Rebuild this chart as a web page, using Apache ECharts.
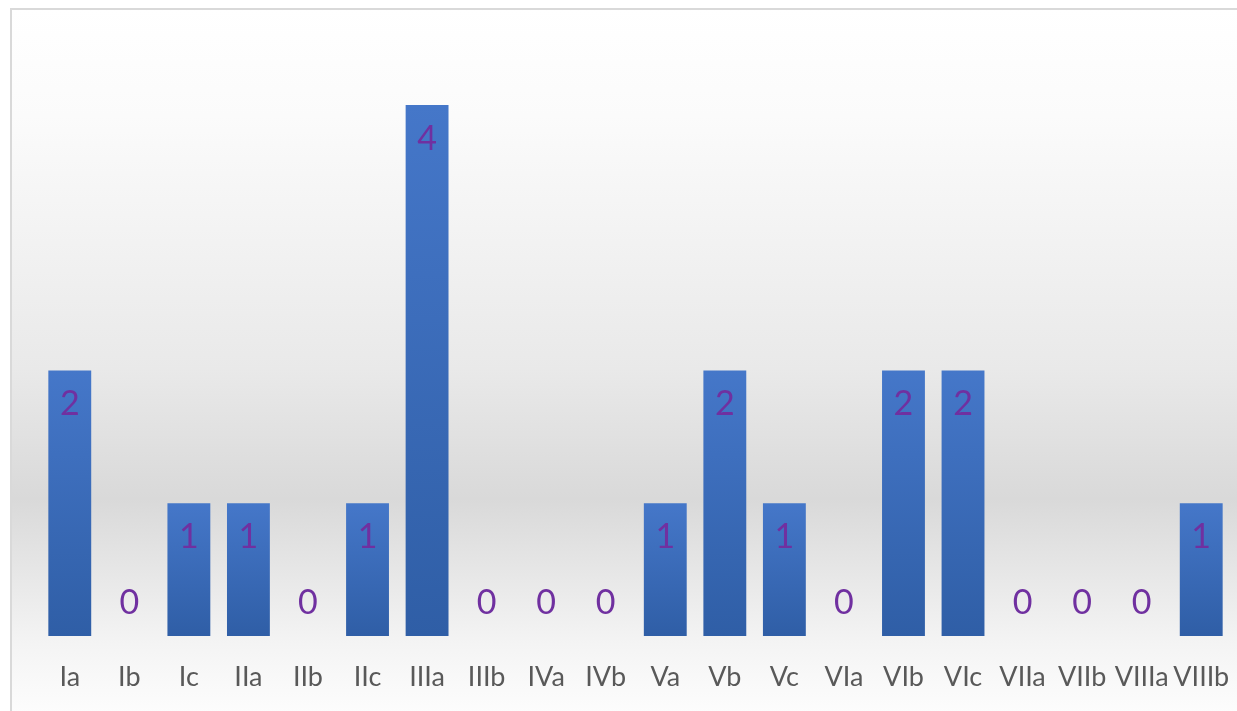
<!DOCTYPE html>
<html><head><meta charset="utf-8">
<script src="https://cdn.jsdelivr.net/npm/echarts@6/dist/echarts.min.js"></script>
<style>html,body{margin:0;padding:0;background:#fff}#c{width:1237px;height:711px}</style>
</head><body><div id="c"></div>
<script>
const categories = ['Ia','Ib','Ic','IIa','IIb','IIc','IIIa','IIIb','IVa','IVb','Va','Vb','Vc','VIa','VIb','VIc','VIIa','VIIb','VIIIa','VIIIb'];
const counts = [2,0,1,1,0,1,4,0,0,0,1,2,1,0,2,2,0,0,0,1];

const chart = echarts.init(document.getElementById('c'));
const font = 'Lato, Open Sans, sans-serif';
chart.setOption({
  animation: false,
  graphic: [{
    type: 'rect', z: -10, silent: true,
    shape: { x: 11, y: 9, width: 1240, height: 720 },
    style: {
      fill: new echarts.graphic.LinearGradient(0, 0, 0, 1, [
        { offset: 0, color: '#ffffff' },
        { offset: 0.15, color: '#fbfbfb' },
        { offset: 0.5, color: '#e9e9e9' },
        { offset: 0.68, color: '#d9d9d9' },
        { offset: 0.88, color: '#f4f4f4' },
        { offset: 1, color: '#ffffff' }
      ]),
      stroke: '#d9d9d9', lineWidth: 2
    }
  }],
  grid: { left: 40, right: 6, top: 105, bottom: 75 },
  xAxis: {
    type: 'category', data: categories,
    axisLine: { show: false }, axisTick: { show: false },
    axisLabel: { color: '#595959', fontSize: 27, fontFamily: font, margin: 28, interval: 0 }
  },
  yAxis: {
    type: 'value', min: 0, max: 4, show: false, splitLine: { show: false }
  },
  series: [{
    type: 'bar', barWidth: '72%',
    data: counts.map(v => v === 0
      ? { value: v, label: { position: 'top', distance: 16 } }
      : { value: v }),
    itemStyle: {
      color: new echarts.graphic.LinearGradient(0, 0, 0, 1, [
        { offset: 0, color: '#4577c9' },
        { offset: 1, color: '#2f5ea6' }
      ])
    },
    label: {
      show: true, position: 'insideTop', distance: 17,
      color: '#7030a0', fontSize: 34, fontFamily: font
    }
  }]
});
</script></body></html>
